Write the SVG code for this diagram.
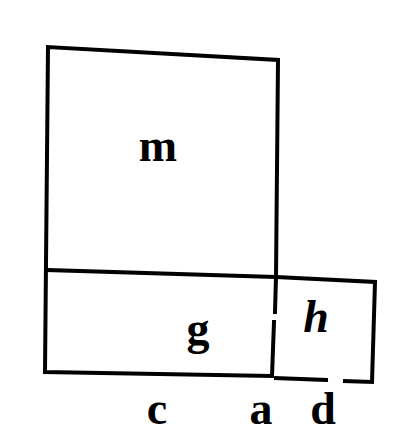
<svg xmlns="http://www.w3.org/2000/svg" width="409" height="435" viewBox="0 0 409 435">
<style>
.ln{fill:none;stroke:#000;stroke-width:4;stroke-linecap:square}
.lb{font-family:"Liberation Serif","DejaVu Serif",serif;font-weight:bold;font-size:46px;fill:#000;text-anchor:middle}
.it{font-style:italic}
</style>
<rect width="409" height="435" fill="#fff"/>
<g id="connectors">
<path class="ln" d="M276,277 L278,60 L48,47 L45,372 L272,376 L274,322"/>
<path class="ln" d="M48,270 L276,277 L375,282 L372,382 L345,381"/>
<path class="ln" d="M326,380 L276,378"/>
<path class="ln" d="M276,277 L275,312"/>
</g>
<g id="m"><text class="lb" x="158" y="161">m</text></g>
<g id="g"><text class="lb" x="198" y="344">g</text></g>
<g id="h"><text class="lb it" x="316" y="332">h</text></g>
<g id="c"><text class="lb" x="157" y="424">c</text></g>
<g id="a"><text class="lb" x="261" y="424">a</text></g>
<g id="d"><text class="lb" x="323" y="424">d</text></g>
</svg>
